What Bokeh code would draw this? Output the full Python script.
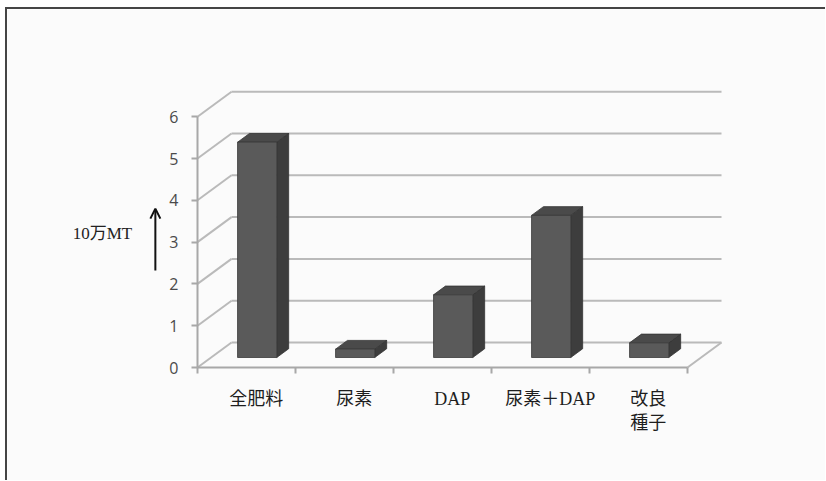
from bokeh.plotting import figure
from bokeh.models import FixedTicker, Label, Arrow, OpenHead
from bokeh.embed import file_html
from bokeh.resources import INLINE

# ---- data ----
categories = ["全肥料", "尿素", "DAP", "尿素＋DAP", "改良\n種子"]
values = [5.15, 0.2, 1.5, 3.4, 0.35]
y_ticks = [0, 1, 2, 3, 4, 5, 6]
y_label = "10万MT"

# ---- 3D geometry (in data units) ----
DX, DY = 0.347, 0.598        # depth offset of back wall
F0, F1 = 0.40, 0.75          # bar depth (front, back) as fraction of depth
BL, BR = 0.27, 0.67          # bar left/right inside category
PX_X, PX_Y = 98.0, 41.8      # px per unit

W, H = 820, 473
OX, OY = 190, 358            # canvas position of the data origin

p = figure(width=W, height=H, output_backend="svg", toolbar_location=None,
           x_range=(-OX / PX_X, (W - OX) / PX_X),
           y_range=(-(H - OY) / PX_Y, OY / PX_Y),
           min_border=0)
p.styles = {"margin-left": "5px", "margin-top": "7px",
            "border-left": "2px solid #454545", "border-top": "2px solid #454545"}
p.background_fill_color = "#fbfbfb"
p.border_fill_color = "#fbfbfb"
p.outline_line_color = None
p.xgrid.visible = False
p.ygrid.visible = False

n = len(categories)
grid_col = "#bababa"
# back wall gridlines
p.segment(x0=[DX] * len(y_ticks), y0=[v + DY for v in y_ticks],
          x1=[n + DX] * len(y_ticks), y1=[v + DY for v in y_ticks],
          line_color=grid_col, line_width=2)
# side wall diagonals
p.segment(x0=[0] * len(y_ticks), y0=y_ticks,
          x1=[DX] * len(y_ticks), y1=[v + DY for v in y_ticks],
          line_color=grid_col, line_width=2)
# floor right edge
p.segment(x0=[n], y0=[0], x1=[n + DX], y1=[DY], line_color=grid_col, line_width=2)

# bars
fx, fy, sx, sy, tx, ty = [], [], [], [], [], []
for i, v in enumerate(values):
    l0, r0 = i + BL + F0 * DX, i + BR + F0 * DX
    l1, r1 = i + BL + F1 * DX, i + BR + F1 * DX
    b0, b1 = F0 * DY, F1 * DY
    t0, t1 = v + F0 * DY, v + F1 * DY
    fx.append([l0, r0, r0, l0]); fy.append([b0, b0, t0, t0])
    sx.append([r0, r1, r1, r0]); sy.append([b0, b1, t1, t0])
    tx.append([l0, r0, r1, l1]); ty.append([t0, t0, t1, t1])
p.patches(sx, sy, fill_color="#3d3d3d", line_color="#333333", line_width=0.8)
p.patches(tx, ty, fill_color="#4a4a4a", line_color="#333333", line_width=0.8)
p.patches(fx, fy, fill_color="#5a5a5a", line_color="#3a3a3a", line_width=0.8)

axis_col = "#a8a8a8"
# y axis (fixed at x = 0)
ya = p.yaxis[0]
ya.fixed_location = 0
ya.ticker = FixedTicker(ticks=y_ticks, minor_ticks=[])
ya.bounds = (0, 6)
ya.axis_line_color = axis_col
ya.axis_line_width = 2
ya.major_tick_line_color = axis_col
ya.major_tick_line_width = 2
ya.major_tick_out = 6
ya.major_tick_in = 0
ya.minor_tick_line_color = None
ya.major_label_standoff = 13
ya.major_label_text_font = "Open Sans"
ya.major_label_text_font_size = "16px"
ya.major_label_text_color = "#4a4a4a"

# x axis (fixed at y = 0)
label_pos = [i + 0.6 for i in range(n)]
xa = p.xaxis[0]
xa.fixed_location = 0
xa.ticker = FixedTicker(ticks=label_pos, minor_ticks=list(range(n + 1)))
xa.bounds = (0, n)
xa.axis_line_color = axis_col
xa.axis_line_width = 2
xa.major_tick_line_color = None
xa.major_tick_out = 0
xa.major_tick_in = 0
xa.minor_tick_line_color = axis_col
xa.minor_tick_line_width = 2
xa.minor_tick_out = 6
xa.minor_tick_in = 0
xa.major_label_overrides = {pos: c for pos, c in zip(label_pos, categories)}
xa.major_label_standoff = 15
xa.major_label_text_font = "'Liberation Serif', 'Noto Sans CJK JP'"
xa.major_label_text_font_size = "18px"
xa.major_label_text_color = "#1e1e1e"

# y label and arrow
p.add_layout(Label(x=-0.97, y=3.2, text=y_label, text_align="center", text_baseline="middle",
                   text_font="'Liberation Serif', 'Noto Sans CJK JP'", text_font_size="17px",
                   text_color="#222222"))
p.add_layout(Arrow(x_start=-0.43, y_start=2.32, x_end=-0.43, y_end=3.8,
                   line_color="#111111", line_width=2,
                   end=OpenHead(size=10, line_color="#111111", line_width=2)))

open("out.html", "w").write(file_html(p, INLINE))
